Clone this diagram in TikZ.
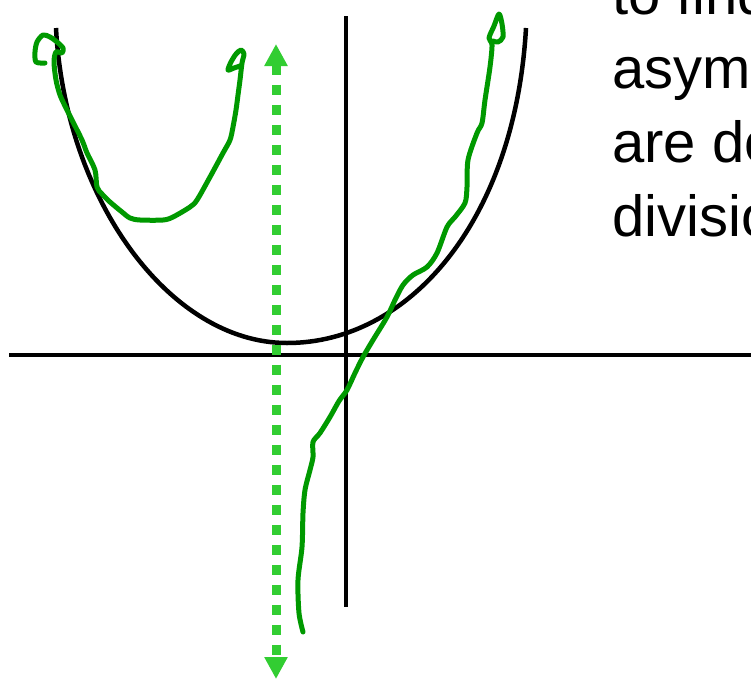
\documentclass[tikz,border=0pt]{standalone}
\usepackage{fontspec}
\setmainfont{Liberation Sans}
\usetikzlibrary{arrows.meta}
\definecolor{dotgreen}{RGB}{50,205,50}
\definecolor{pengreen}{RGB}{0,153,0}

\begin{document}
\begin{tikzpicture}[
        x=1pt, y=-1pt,
        axis/.style={line width=4.5pt},
        bowl/.style={line width=4.5pt},
        ink/.style={pengreen, line width=5pt, line cap=round, line join=round},
        guide/.style={dotgreen, line width=9pt, dash pattern=on 10pt off 10pt,
            {Triangle[length=22pt,width=22pt]}-{Triangle[length=22pt,width=22pt]}},
        words/.style={anchor=base west, inner sep=0pt, font=\fontsize{58}{70}\selectfont}
    ]
        \useasboundingbox (0,0) rectangle (751,680);
        \clip (0,0) rectangle (751,680);

        % text at the top right (runs off the page)
        \node[words] (line1) at (612,14) {to find};
        \node[words] (line2) at (612,88) {asymptotes};
        \node[words] (line3) at (612,162) {are done};
        \node[words] (line4) at (612,236) {division};

        % axes
        \draw[axis] (9,355) -- (751,355);
        \draw[axis] (346,16) -- (346,607);

        % black curve
        \coordinate (bowlleft) at (56,28);
        \coordinate (bowlbot) at (287,343);
        \coordinate (bowlright) at (526,28);
        \draw[bowl] (bowlleft) .. controls (65,200) and (170,343) .. (bowlbot)
            .. controls (410,343) and (515,220) .. (bowlright);

        % dotted vertical guide
        \coordinate (guidetop) at (276,44);
        \coordinate (guidebot) at (276,679);
        \draw[guide] (guidetop) -- (guidebot);

        % green sketches
        \draw[ink] plot[smooth] coordinates {(45,63) (36,62) (35,52) (37,42) (43,35) (50,37) (57,42)
            (63,48) (62,53) (56,52) (54,62) (56,80) (60,95) (66,108) (72,120) (82,140) (87,153)
            (95,170) (97,187) (102,194) (110,202) (122,212) (130,218) (140,220) (163,220) (173,217)
            (190,207) (197,200) (210,177) (223,153) (230,140) (233,127) (236,110) (238,95) (240,80)
            (242,63) (244,54) (241,50) (236,54) (231,62) (228,70) (234,68) (240,66)};
        \draw[ink] plot[smooth] coordinates {(303,632) (299,613) (298,580) (302,547) (303,513)
            (305,490) (310,470) (313,457) (313,442) (320,433) (330,417) (339,401) (347,390)
            (355,373) (363,357) (373,340) (387,317) (395,300) (403,285) (413,275) (427,267)
            (437,253) (447,227) (455,217) (465,203) (467,187) (468,160) (477,133) (482,123)
            (485,100) (490,67) (492,45) (489,38) (494,26) (499,14) (502,24) (503,37) (498,42)
            (493,41)};
\end{tikzpicture}
\end{document}
